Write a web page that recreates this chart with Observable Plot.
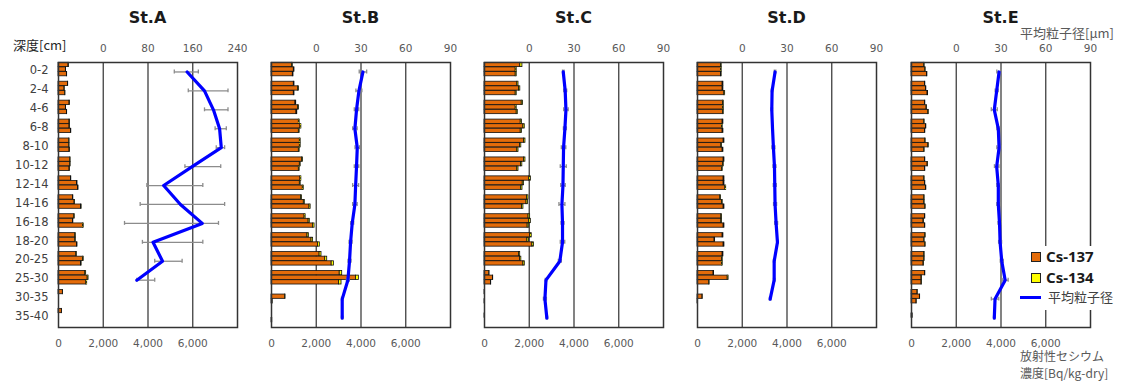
<!DOCTYPE html>
<html><head><meta charset="utf-8">
<script src="https://cdn.jsdelivr.net/npm/d3@7"></script>
<script src="https://cdn.jsdelivr.net/npm/@observablehq/plot@0.6"></script>
<style>
body{margin:0;background:#fff;}
#wrap{position:relative;width:1126px;height:383px;overflow:hidden;background:#fff;font-family:"DejaVu Sans",sans-serif;}
.panel{position:absolute;top:0;}
.title{position:absolute;top:8px;width:179px;text-align:center;font:bold 16px "DejaVu Sans",sans-serif;color:#1a1a1a;}
.jp{position:absolute;font-family:"Noto Sans CJK JP",sans-serif;color:#595959;font-size:13px;line-height:16px;white-space:nowrap;}
#legend{position:absolute;left:1019px;top:246px;width:95px;height:64px;background:#fff;}
.sw{position:absolute;width:8px;height:8px;border:1px solid #222;}
.lt{position:absolute;font:bold 15px "Noto Sans",sans-serif;color:#1a1a1a;line-height:18px;}
</style></head>
<body><div id="wrap"></div>
<script>
// ---- data ----
const depths = ["0-2","2-4","4-6","6-8","8-10","10-12","12-14","14-16","16-18","18-20","20-25","25-30","30-35","35-40"];
const stations = ["St.A","St.B","St.C","St.D","St.E"];
const isotopes = ["Cs-137","Cs-134"];
const bqTicks = [0, 2000, 4000, 6000];
const sizeTicksA = [0, 80, 160, 240];
const sizeTicksOther = [0, 30, 60, 90];

// Cs-137 [Bq/kg-dry], three sub-samples per depth
const cs137A = [[450,330,375],[420,270,300],[495,330,375],[495,495,555],[480,480,495],[525,525,495],[555,825,870],[645,720,1005],[705,645,1095],[750,750,825],[795,1095,1005],[1200,1305,1245],[195,0,0],[150,0,0]];
const cs137B = [[924,998,954],[998,1192,998],[1073,1192,1118],[1222,1296,1222],[1267,1267,1222],[1371,1267,1222],[1296,1267,1400],[1326,1445,1700],[1480,1660,1850],[1610,1790,2080],[2150,2400,2690],[3050,3780,3020],[0,610,45],[0,0,30]];
const cs137C = [[1600,1395,1395],[1470,1545,1395],[1665,1395,1440],[1620,1740,1620],[1770,1590,1470],[1770,1635,1470],[2000,1710,1640],[1900,1880,1680],[1970,2000,1930],[2040,1920,2140],[1540,1590,1740],[215,375,290],[25,0,25],[0,20,0]];
const cs137D = [[1050,1050,1050],[1125,1125,1200],[1140,1140,1140],[1125,1095,1125],[1170,1065,1125],[1170,1140,1095],[1170,1170,1245],[1020,1095,1170],[1065,1065,1170],[1125,765,1170],[1125,1095,1095],[720,1350,525],[0,225,15],[0,0,0]];
const cs137E = [[570,615,690],[600,645,720],[600,675,750],[570,645,600],[615,750,570],[600,720,600],[570,600,645],[570,570,615],[600,540,600],[615,570,615],[570,570,540],[600,450,450],[270,375,225],[0,45,0]];
// Cs-134 [Bq/kg-dry]
const cs134A = [[14,10,12],[13,8,9],[15,10,12],[15,15,17],[14,14,15],[16,16,15],[17,25,26],[19,21,30],[21,19,33],[23,23,25],[24,33,30],[36,39,37],[6,0,0],[5,0,0]];
const cs134B = [[28,30,29],[30,36,30],[32,36,34],[37,39,37],[38,38,37],[41,38,37],[39,38,42],[40,44,50],[46,52,75],[60,70,80],[85,90,100],[110,125,110],[0,18,3],[0,0,2]];
const cs134C = [[95,45,45],[50,55,45],[60,45,48],[55,60,55],[60,55,50],[60,55,50],[75,60,58],[65,66,60],[70,72,68],[72,68,75],[55,56,62],[8,14,10],[1,0,1],[0,1,0]];
const cs134D = [[32,32,31],[34,33,36],[34,35,34],[33,32,34],[35,32,34],[35,34,33],[35,35,37],[30,33,35],[32,32,35],[34,23,35],[34,33,33],[22,40,16],[0,7,1],[0,0,0]];
const cs134E = [[17,18,21],[18,19,22],[18,20,22],[17,19,18],[18,22,17],[18,21,18],[17,18,19],[17,17,18],[18,16,18],[18,17,18],[17,17,16],[18,14,14],[8,11,7],[0,1,0]];

// mean particle size [µm] and its error-bar ends
const sizeA = [150,181,197,208,211,159,108,138,177,89,106,60,null,null];
const sizeLoA = [127,152,181,200,202,146,78,66,38,70,92,60,null,null];
const sizeHiA = [170,223,223,220,217,210,178,217,206,178,141,92,null,null];
const sizeB = [31.3,28.6,27,25.9,27.5,27,26.4,25.9,24.1,23,22.3,21.2,17.4,17.4];
const sizeErrB = [2.5,2,1.5,1.5,1.5,1.5,2,1.5,1,1,1,1,0.5,0.5];
const sizeC = [22.8,24.1,24.6,23.9,23,22.8,22.6,21.9,22.3,22.3,20.5,11.2,10.5,11.8];
const sizeErrC = [0.5,1,1.5,1,1.5,2,1.5,2,1,1.5,1,0.5,1,0.5];
const sizeD = [22,20,19.8,20.3,20.9,21.6,21.8,22,22.7,23.6,21.4,21.4,18.7,null];
const sizeErrD = [0.5,0.5,0.5,0.5,1,1,1,1,1,0.5,0.5,0.5,0.5,null];
const sizeE = [28.7,27.1,25.5,28.2,28.7,27.1,28.2,28.2,29,29.4,30.5,32.8,26,25.5];
const sizeErrE = [1.5,1,2,1,1.5,1.5,1,1,1,1,1,2,2.5,0.5];

const cs137 = [cs137A, cs137B, cs137C, cs137D, cs137E];
const cs134 = [cs134A, cs134B, cs134C, cs134D, cs134E];
const sizes = [sizeA, sizeB, sizeC, sizeD, sizeE];
const symErr = [null, sizeErrB, sizeErrC, sizeErrD, sizeErrE];
const sizeTicks = [sizeTicksA, sizeTicksOther, sizeTicksOther, sizeTicksOther, sizeTicksOther];

// ---- layout ----
const ORANGE = "#E46C0A", YELLOW = "#FFFF00", BLUE = "#0000FF";
const frameLefts = [58, 271, 484, 697, 911];
const FW = 179, MT = 62, PH = 265, MB = 30;
const BH = PH / depths.length;
const BAR = 4.3, STEP = 4.6, OFF = 0.3;
const wrap = document.getElementById("wrap");

stations.forEach((st, s) => {
  const rows = [];
  depths.forEach((d, i) => {
    for (let r = 0; r < 3; r++) {
      rows.push({depth: d, rep: r, iso: "Cs-137", value: cs137[s][i][r]});
      rows.push({depth: d, rep: r, iso: "Cs-134", value: cs134[s][i][r]});
    }
  });
  const maxSize = sizeTicks[s][sizeTicks[s].length - 1];
  // particle-size axis spans the 2,000–8,000 part of the concentration axis
  const toX = v => 2000 + v * 6000 / maxSize;
  const pts = depths.map((d, i) => {
    const m = sizes[s][i];
    const lo = s === 0 ? sizeLoA[i] : (m == null ? null : m - symErr[s][i]);
    const hi = s === 0 ? sizeHiA[i] : (m == null ? null : m + symErr[s][i]);
    return {depth: d, size: m, lo, hi};
  }).filter(p => p.size != null);
  const topLabel = new Map(sizeTicks[s].map(t => [toX(t), String(t)]));

  const ml = s === 0 ? 58 : 16, mr = 16;
  const barMarks = [0, 1, 2].map(r => {
    const it = OFF + STEP * r;
    return Plot.barX(rows.filter(d => d.rep === r), Plot.stackX({
      x: "value", y: "depth", fill: "iso", order: isotopes,
      stroke: "#111", strokeWidth: 0.8,
      insetTop: it, insetBottom: BH - it - BAR
    }));
  });
  const eb = {stroke: "#8c8c8c", strokeWidth: 1.3};

  const marks = [
    Plot.ruleX([2000, 4000, 6000], {stroke: "#404040", strokeWidth: 1.3}),
    ...barMarks,
    Plot.link(pts, {x1: p => toX(p.lo), x2: p => toX(p.hi), y1: "depth", y2: "depth", ...eb}),
    Plot.tickX(pts, {x: p => toX(p.lo), y: "depth", ...eb, insetTop: 7.5, insetBottom: 7.5}),
    Plot.tickX(pts, {x: p => toX(p.hi), y: "depth", ...eb, insetTop: 7.5, insetBottom: 7.5}),
    Plot.lineX(pts, {x: p => toX(p.size), y: "depth", stroke: BLUE, strokeWidth: 3.2, strokeLinejoin: "round"}),
    Plot.frame({stroke: "#333", strokeWidth: 1.5}),
    Plot.axisX(bqTicks, {anchor: "bottom", tickSize: 0, tickPadding: 12, tickFormat: d3.format(","), fontSize: 10.5, color: "#595959"}),
    Plot.axisX(sizeTicks[s].map(toX), {anchor: "top", tickSize: 0, tickPadding: 11, tickFormat: d => topLabel.get(d), fontSize: 10.5, color: "#595959"})
  ];
  if (s === 0) marks.push(Plot.axisY({tickSize: 0, tickPadding: 10, fontSize: 11.5, color: "#404040", dy: -1.5}));
  else marks.push(Plot.axisY({ticks: [], tickSize: 0}));

  const chart = Plot.plot({
    width: ml + FW + mr, height: MT + PH + MB,
    marginLeft: ml, marginRight: mr, marginTop: MT, marginBottom: MB,
    x: {domain: [0, 8000], label: null, round: false},
    y: {domain: depths, type: "band", padding: 0, round: false, label: null},
    color: {domain: isotopes, range: [ORANGE, YELLOW]},
    style: {fontFamily: "DejaVu Sans, sans-serif", fontSize: "10.5px", color: "#595959", background: "transparent", overflow: "visible"},
    marks
  });
  const holder = document.createElement("div");
  holder.className = "panel";
  holder.style.left = (frameLefts[s] - ml) + "px";
  holder.appendChild(chart);
  wrap.appendChild(holder);

  const t = document.createElement("div");
  t.className = "title";
  t.style.left = frameLefts[s] + "px";
  t.textContent = st;
  wrap.appendChild(t);
});

function addText(txt, left, top, extra) {
  const el = document.createElement("div");
  el.className = "jp";
  el.style.left = left + "px"; el.style.top = top + "px";
  if (extra) Object.assign(el.style, extra);
  el.textContent = txt;
  wrap.appendChild(el);
  return el;
}
addText("深度[cm]", 13, 37, {color: "#262626"});
addText("平均粒子径[μm]", 1020, 25);
addText("放射性セシウム", 1020, 347, {fontSize: "12px", lineHeight: "18px"});
addText("濃度[Bq/kg-dry]", 1020, 364, {fontSize: "12px", lineHeight: "18px"});

// legend
const lg = document.createElement("div");
lg.id = "legend";
lg.innerHTML =
  `<div class="sw" style="left:12px;top:6px;background:${ORANGE}"></div>` +
  `<div class="lt" style="left:27px;top:1px">${isotopes[0]}</div>` +
  `<div class="sw" style="left:12px;top:27px;background:${YELLOW}"></div>` +
  `<div class="lt" style="left:27px;top:22px">${isotopes[1]}</div>` +
  `<div style="position:absolute;left:1px;top:50px;width:21px;height:3px;background:${BLUE}"></div>` +
  `<div class="jp" style="left:29px;top:43px;color:#404040">平均粒子径</div>`;
wrap.appendChild(lg);
</script>
</body></html>
